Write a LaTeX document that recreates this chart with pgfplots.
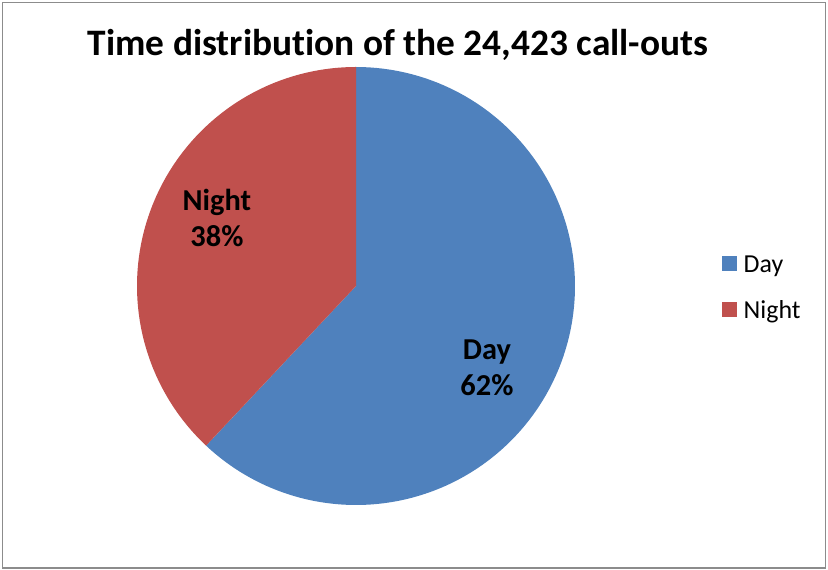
\documentclass[border=0pt]{standalone}
\usepackage{pgfplots}
\pgfplotsset{compat=1.18}
\usepackage{fontspec}
\setmainfont[RawFeature=-liga]{Carlito}
\definecolor{daycol}{HTML}{4F81BD}
\definecolor{nightcol}{HTML}{C0504D}
\begin{document}
\begin{tikzpicture}
\def\dayval{62}
\def\nightval{38}
\useasboundingbox (0,0) rectangle (828bp,570bp);
\draw[color=black!45, line width=1.5bp] (2.5bp,2bp) rectangle (825.5bp,567.5bp);
\node[anchor=base, inner sep=0pt, font=\fontsize{37.5}{45}\selectfont\bfseries] at (398bp,514.3bp) {Time distribution of the 24,423 call-outs};
\begin{axis}[at={(356bp,284bp)}, anchor=center, scale only axis,
  width=438bp, height=438bp, xmin=-1, xmax=1, ymin=-1, ymax=1,
  hide axis, clip=false,
  legend style={at={(rel axis cs:1.3356,0.493)}, anchor=west, draw=none, fill=none,
    inner sep=0pt, font=\fontsize{26}{31}\selectfont, row sep=24bp, column sep=6.5bp,
    nodes={inner sep=0pt, text height=17bp, text depth=5bp}},
  legend cell align=left,
  legend image code/.code={\fill (0bp,-4.5bp) rectangle (15bp,10.5bp);},
]
\addplot[fill=daycol, draw=none, domain={90-3.6*\dayval}:90, samples=200, variable=\t]
  ({cos(\t)},{sin(\t)}) -- (axis cs:0,0) -- cycle;
\addlegendentry{Day}
\addplot[fill=nightcol, draw=none, domain=90:{90+3.6*\nightval}, samples=200, variable=\t]
  ({cos(\t)},{sin(\t)}) -- (axis cs:0,0) -- cycle;
\addlegendentry{Night}
\node[align=center, inner sep=0pt, font=\fontsize{30.5}{36}\selectfont\bfseries] at (axis cs:0.598,-0.374) {Day\\62\%};
\node[align=center, inner sep=0pt, font=\fontsize{30.5}{36}\selectfont\bfseries] at (axis cs:-0.635,0.31) {Night\\38\%};
\end{axis}
\end{tikzpicture}
\end{document}
